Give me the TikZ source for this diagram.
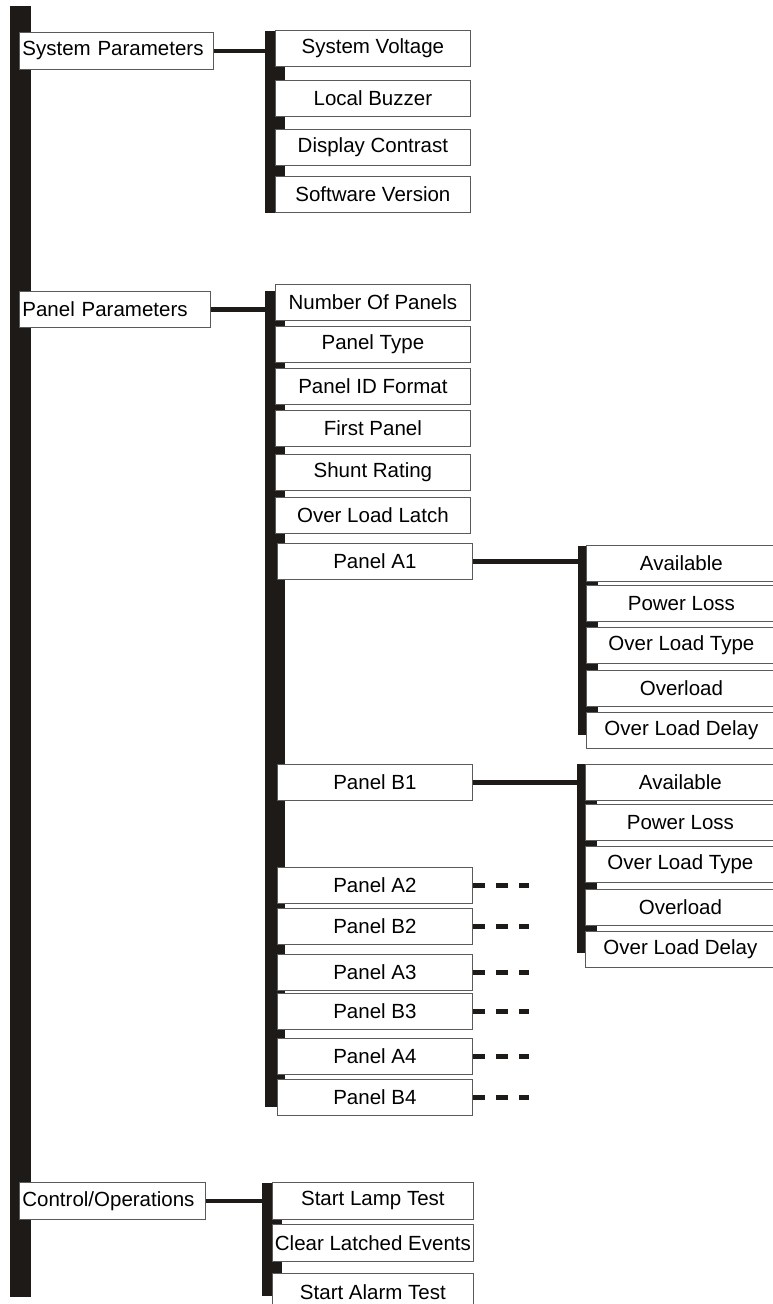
\documentclass[tikz,border=0pt]{standalone}
\usepackage{fontspec}
\setmainfont{Liberation Sans}
\usetikzlibrary{positioning}
\definecolor{barblack}{RGB}{30,26,24}
\definecolor{boxline}{RGB}{90,90,90}
\tikzset{
  box/.style={draw=boxline, line width=0.8pt, fill=white, anchor=north west,
    minimum height=36pt, inner sep=0pt, font=\fontsize{20.5}{23}\selectfont},
  group/.style={box, inner xsep=3pt, align=left},
  entry/.style={box, minimum width=195pt},
  bar/.style={fill=barblack, anchor=north west, inner sep=0pt, minimum width=20pt},
  link/.style={draw=barblack, line width=4.4pt},
  more/.style={link, dash pattern=on 12pt off 11pt}
}

\begin{document}
\begin{tikzpicture}[x=1pt,y=1pt]
      \useasboundingbox (0,0) rectangle (773,-1304);
      % bars
      \node[bar,minimum width=21pt,minimum height=1291pt](mainbar) at (10,-6){};
      \node[bar,minimum height=182pt](sysbar) at (265,-31){};
      \node[bar,minimum height=816pt](panbar) at (265,-291){};
      \node[bar,minimum height=189pt](abar) at (578,-546){};
      \node[bar,minimum height=189pt](bbar) at (577,-764){};
      \node[bar,minimum height=113pt](ctlbar) at (262,-1183){};
      % groups
      \node[group,text width=188pt,minimum height=37pt](sys) at (19,-32){System Parameters};
      \node[group,text width=185pt](pan) at (19,-291){Panel Parameters};
      \node[group,text width=180pt,minimum height=37pt](ctl) at (19,-1182){Control/Operations};
      % system parameters
      \node[entry](sv) at (275,-30){System Voltage};
      \node[entry](lb) at (275,-80){Local Buzzer};
      \node[entry](dc) at (275,-129){Display Contrast};
      \node[entry](sw) at (275,-176){Software Version};
      % panel parameters
      \node[entry](np) at (275,-284){Number Of Panels};
      \node[entry](pt) at (275,-326){Panel Type};
      \node[entry](pid) at (275,-368){Panel ID Format};
      \node[entry](fp) at (275,-410){First Panel};
      \node[entry](sr) at (275,-454){Shunt Rating};
      \node[entry](oll) at (275,-497){Over Load Latch};
      \node[entry](pa1) at (277,-543){Panel A1};
      \node[entry](pb1) at (277,-764){Panel B1};
      \node[entry](pa2) at (277,-867){Panel A2};
      \node[entry](pb2) at (277,-908){Panel B2};
      \node[entry](pa3) at (277,-954){Panel A3};
      \node[entry](pb3) at (277,-993){Panel B3};
      \node[entry](pa4) at (277,-1038){Panel A4};
      \node[entry](pb4) at (277,-1079){Panel B4};
      % panel A1
      \node[entry,minimum width=190pt](aav) at (586,-545){Available};
      \node[entry,minimum width=190pt](apl) at (586,-585){Power Loss};
      \node[entry,minimum width=190pt](aot) at (586,-627){Over Load Type};
      \node[entry,minimum width=190pt](aol) at (586,-670){Overload};
      \node[entry,minimum width=190pt](aod) at (586,-712){Over Load Delay};
      % panel B1
      \node[entry,minimum width=190pt](bav) at (585,-764){Available};
      \node[entry,minimum width=190pt](bpl) at (585,-804){Power Loss};
      \node[entry,minimum width=190pt](bot) at (585,-846){Over Load Type};
      \node[entry,minimum width=190pt](bol) at (585,-889){Overload};
      \node[entry,minimum width=190pt](bod) at (585,-931){Over Load Delay};
      % control
      \node[entry,minimum width=201pt,minimum height=37pt](slt) at (272,-1182){Start Lamp Test};
      \node[entry,minimum width=201pt,minimum height=37pt](cle) at (272,-1224){Clear Latched Events};
      \node[entry,minimum width=201pt,minimum height=37pt](sat) at (272,-1273){Start Alarm Test};
      % links
      \draw[link] (sys.east) -- (sys.east -| sysbar.west);
      \draw[link] (pan.east) -- (pan.east -| panbar.west);
      \draw[link] (ctl.east) -- (ctl.east -| ctlbar.west);
      \draw[link] (pa1.east) -- (pa1.east -| abar.west);
      \draw[link] (pb1.east) -- (pb1.east -| bbar.west);
      \foreach \p in {pa2,pb2,pa3,pb3,pa4,pb4}
        \draw[more] (\p.east) -- +(56,0);
\end{tikzpicture}
\end{document}
